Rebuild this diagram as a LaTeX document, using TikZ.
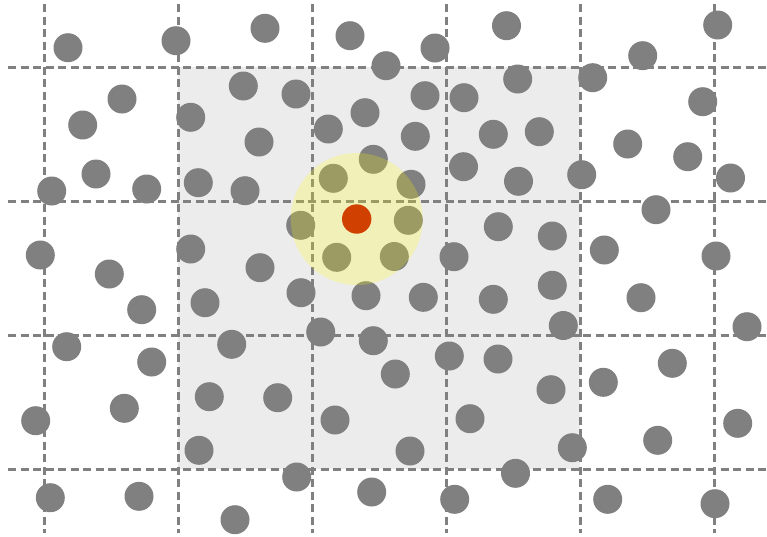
\documentclass[tikz,border=0pt]{standalone}
\begin{document}
\begin{tikzpicture}[x=1pt,y=-1pt]
\definecolor{dotgray}{HTML}{808080}
\definecolor{panel}{HTML}{ECECEC}
\definecolor{hl}{RGB}{255,255,0}
\definecolor{hot}{HTML}{D04000}
\tikzset{
  gridline/.style={draw=dotgray, line width=3pt, dash pattern=on 8pt off 4.5pt},
  dot/.style={fill=dotgray},
}
\useasboundingbox (0,0) rectangle (767,536);
\fill[white] (0,0) rectangle (767,536);
\fill[panel] (178,67) rectangle (580,469);
\foreach \x in {44,178,312,446,580,714}
  \draw[gridline] (\x,4) -- (\x,533);
\foreach \y in {67,201,335,469}
  \draw[gridline] (8,\y) -- (767,\y);
\foreach \x/\y in {
68/47.7,176/40.7,265/28.3,350/35.7,386/65.7,435/48,506.5/25.7,717.7/25,642.7/55.7,592.7/77.7,517.7/79,
122/99,82.7/125,190.7/117.3,243.3/86,296/94,365/112.7,425/95.7,464/97.7,328.3/129,259/142,415.3/136.3,493.3/134.3,539.3/131.7,702.7/101.7,627.7/144,687.7/156.7,730.5/178,
51.7/191,96/174,146.7/189,198.3/182.7,245/190.7,333.3/178.3,373.3/159.3,411/184.3,463.5/166.7,518.5/181.3,581.7/174.7,656/209.7,
40.3/255,109.3/274,141.7/309.7,190.7/249,260/267.7,300.7/225.3,336.7/257.3,394.3/256.5,408.3/220.3,454/256.7,498.3/226.7,552.3/236,604.3/250,716/256,
205/302.7,301/292.7,366/295.7,423.3/297.3,493.3/299.3,552.3/285.3,641/297.7,747/326.7,563.3/325.5,
66.7/346.7,151.7/362,231.7/344.3,320.7/332,373.3/340.7,395.3/374,449.3/356,498/359,551/389.7,603.3/382.3,672.3/363.3,
35.7/420.7,124.3/408.3,209.3/396.7,277.7/397.7,335/420,470/418.7,737.7/423.3,657.7/440.3,572.3/447.7,410/451,199/450.3,
50.3/497.7,139/496.3,235/519.7,296.7/477,371.7/492,454.7/499.3,515.5/473.3,607.7/499.3,715/503.7}
  \fill[dot] (\x,\y) circle[radius=14.5];
\fill[hl, fill opacity=0.22] (356.7,219) circle[radius=66];
\fill[hot] (356.7,219) circle[radius=14.7];
\end{tikzpicture}
\end{document}
